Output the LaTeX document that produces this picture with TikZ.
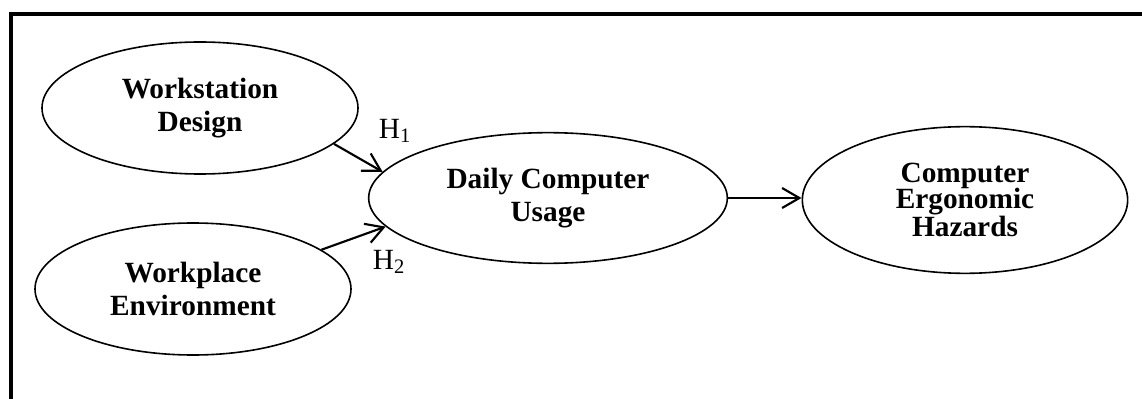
\documentclass[tikz,border=0pt]{standalone}
\usepackage{fontspec}
\setmainfont{Liberation Serif}
\usetikzlibrary{arrows.meta,shapes.geometric}

\begin{document}
\begin{tikzpicture}[
    x=0.75pt, y=-0.75pt,
    construct/.style={ellipse, draw, line width=1.2pt, minimum width=237pt, minimum height=99pt, align=center, inner sep=0pt, font=\fontsize{22}{24.5}\selectfont\bfseries},
    hyp/.style={inner sep=0pt, font=\fontsize{22}{24}\selectfont},
    arrow/.style={-{Straight Barb[length=13pt, width=15pt, line width=1.6pt]}, line width=1.6pt}
]
\useasboundingbox (0,0) rectangle (1142,399);

% Frame
\draw[line width=3pt] (11,399) -- (11,14) -- (1142,14);

% Constructs
\node[construct] (ws) at (200,108) {Workstation\\Design};
\node[construct] (wp) at (193,289) {Workplace\\Environment};
\node[construct, minimum width=269pt, minimum height=98pt] (dcu) at (548,198) {Daily Computer\\Usage};
\node[construct, minimum width=244pt, minimum height=110pt, font=\fontsize{22}{20}\selectfont\bfseries] (ceh) at (965,200) {Computer\\Ergonomic\\Hazards};

% Hypotheses
\node[hyp] (h1) at (395,131) {H\textsubscript{1}};
\node[hyp] (h2) at (389,262) {H\textsubscript{2}};

% Arrows
\draw[arrow] (ws.-15) -- (dcu.171);
\draw[arrow] (wp.17) -- (dcu.190);
\draw[arrow] (dcu.east) -- (dcu.east -| ceh.west);

\end{tikzpicture}
\end{document}
